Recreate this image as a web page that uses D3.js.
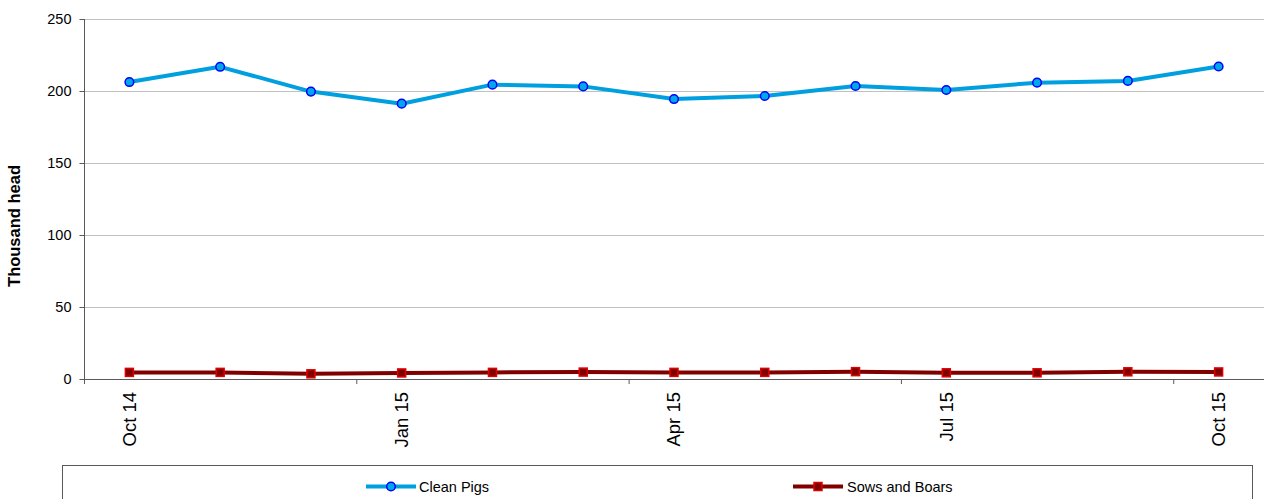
<!DOCTYPE html>
<html>
<head>
<meta charset="utf-8">
<script src="https://cdn.jsdelivr.net/npm/d3@7"></script>
<style>
  html, body { margin: 0; padding: 0; background: #fff; }
  svg { display: block; font-family: "Liberation Sans", Arial, sans-serif; }
</style>
</head>
<body>
<svg id="chart" width="1266" height="499"></svg>
<script>
// Monthly slaughterings, thousand head
const months = ["Oct 14", "Nov 14", "Dec 14", "Jan 15", "Feb 15", "Mar 15", "Apr 15",
                "May 15", "Jun 15", "Jul 15", "Aug 15", "Sep 15", "Oct 15"];
const cleanPigs = [206.2, 216.8, 199.6, 191.2, 204.4, 203.2, 194.4, 196.5, 203.5, 200.7, 205.8, 207.0, 217.0];
const sowsAndBoars = [4.6, 4.6, 3.6, 4.2, 4.6, 4.8, 4.6, 4.6, 5.1, 4.3, 4.3, 5.0, 4.9];
const yTicks = [0, 50, 100, 150, 200, 250];
const xLabelMonths = ["Oct 14", "Jan 15", "Apr 15", "Jul 15", "Oct 15"];

const svg = d3.select("#chart");
const plot = { left: 84, right: 1264, top: 19, bottom: 379 };

const x = d3.scaleBand().domain(months).range([plot.left, plot.right]).padding(0);
const y = d3.scaleLinear().domain([0, 250]).range([plot.bottom, plot.top]);
const cx = d => x(d) + x.bandwidth() / 2;

// gridlines
svg.append("g")
  .selectAll("line")
  .data(yTicks.filter(t => t > 0))
  .join("line")
  .attr("x1", plot.left).attr("x2", plot.right)
  .attr("y1", d => y(d) + 0.5).attr("y2", d => y(d) + 0.5)
  .attr("stroke", "#c0c0c0").attr("stroke-width", 1);

// y axis
const yAxis = svg.append("g")
  .attr("transform", `translate(${plot.left + 0.5},0)`)
  .call(d3.axisLeft(y).tickValues(yTicks).tickSize(5).tickPadding(8).tickFormat(d3.format("d")));
yAxis.select(".domain").attr("stroke", "#595959").attr("d", `M0,${plot.top}V${plot.bottom}`);
yAxis.selectAll(".tick line").attr("stroke", "#595959");
yAxis.selectAll(".tick text").attr("font-size", "14.5px").attr("fill", "#000")
  .attr("font-family", "Liberation Sans, Arial, sans-serif");

// x axis line and tick marks at every third month boundary
svg.append("line")
  .attr("x1", plot.left).attr("x2", plot.right)
  .attr("y1", plot.bottom + 0.5).attr("y2", plot.bottom + 0.5)
  .attr("stroke", "#595959");
svg.append("g")
  .selectAll("line")
  .data(months.filter((m, i) => i % 3 === 0))
  .join("line")
  .attr("x1", d => x(d) + 0.5).attr("x2", d => x(d) + 0.5)
  .attr("y1", plot.bottom).attr("y2", plot.bottom + 5)
  .attr("stroke", "#595959");

// x labels, rotated
svg.append("g")
  .selectAll("text")
  .data(xLabelMonths)
  .join("text")
  .attr("transform", d => `translate(${cx(d)},${plot.bottom + 13}) rotate(-90)`)
  .attr("text-anchor", "end")
  .attr("dy", "0.35em")
  .attr("font-size", "18.5px")
  .text(d => d);

// y axis title
svg.append("text")
  .attr("transform", "translate(14,226) rotate(-90)")
  .attr("text-anchor", "middle")
  .attr("dy", "0.35em")
  .attr("font-size", "16.5px")
  .attr("font-weight", "bold")
  .text("Thousand head");

const line = d3.line().x((d, i) => cx(months[i])).y(d => y(d));

// Sows and Boars
svg.append("path")
  .datum(sowsAndBoars)
  .attr("d", line)
  .attr("fill", "none")
  .attr("stroke", "#800000")
  .attr("stroke-width", 4)
  .attr("stroke-linejoin", "round");
svg.append("g")
  .selectAll("rect")
  .data(sowsAndBoars)
  .join("rect")
  .attr("x", (d, i) => cx(months[i]) - 4)
  .attr("y", d => y(d) - 4)
  .attr("width", 8).attr("height", 8)
  .attr("fill", "#800000")
  .attr("stroke", "#e00000")
  .attr("stroke-width", 1.5);

// Clean Pigs
svg.append("path")
  .datum(cleanPigs)
  .attr("d", line)
  .attr("fill", "none")
  .attr("stroke", "#009fdf")
  .attr("stroke-width", 4)
  .attr("stroke-linejoin", "round");
svg.append("g")
  .selectAll("circle")
  .data(cleanPigs)
  .join("circle")
  .attr("cx", (d, i) => cx(months[i]))
  .attr("cy", d => y(d))
  .attr("r", 4.3)
  .attr("fill", "#00a8e8")
  .attr("stroke", "#0000ff")
  .attr("stroke-width", 1.5);

// legend
svg.append("rect")
  .attr("x", 62.5).attr("y", 465.5)
  .attr("width", 1190).attr("height", 60)
  .attr("fill", "none").attr("stroke", "#595959");

const legendY = 486.5;
const lg1 = svg.append("g");
lg1.append("line").attr("x1", 366).attr("x2", 416).attr("y1", legendY).attr("y2", legendY)
  .attr("stroke", "#009fdf").attr("stroke-width", 4);
lg1.append("circle").attr("cx", 391).attr("cy", legendY).attr("r", 4.3)
  .attr("fill", "#00a8e8").attr("stroke", "#0000ff").attr("stroke-width", 1.5);
lg1.append("text").attr("x", 419).attr("y", legendY).attr("dy", "0.35em")
  .attr("font-size", "14.5px").text("Clean Pigs");

const lg2 = svg.append("g");
lg2.append("line").attr("x1", 793).attr("x2", 843).attr("y1", legendY).attr("y2", legendY)
  .attr("stroke", "#800000").attr("stroke-width", 4);
lg2.append("rect").attr("x", 814).attr("y", legendY - 4).attr("width", 8).attr("height", 8)
  .attr("fill", "#800000").attr("stroke", "#e00000").attr("stroke-width", 1.5);
lg2.append("text").attr("x", 847).attr("y", legendY).attr("dy", "0.35em")
  .attr("font-size", "14.5px").text("Sows and Boars");
</script>
</body>
</html>
